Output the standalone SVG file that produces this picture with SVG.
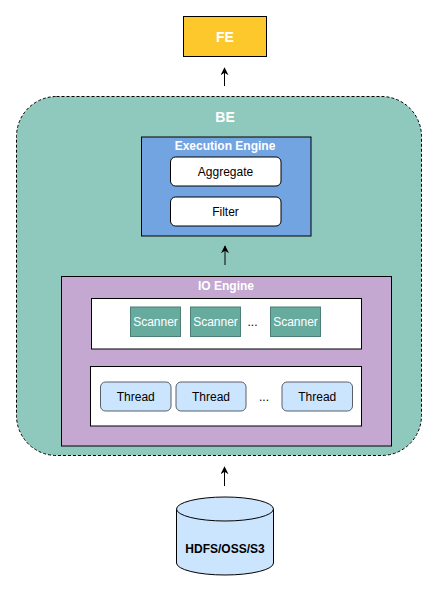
<svg xmlns="http://www.w3.org/2000/svg" width="439" height="593" viewBox="0 0 439 593">
<defs>
<marker id="arr" viewBox="0 0 10 10" refX="9" refY="5" markerWidth="8" markerHeight="8" markerUnits="userSpaceOnUse" orient="auto">
<path d="M0,0 L10,5 L0,10 L3,5 Z" fill="#000"/>
</marker>
</defs>
<style>
text{font-family:"Liberation Sans",Arial,sans-serif;text-anchor:middle;dominant-baseline:central}
.wb{fill:#fff;font-weight:bold}
.t{font-size:12px;fill:#000}
.scan{fill:#67AB9F;stroke:#4d7f76;stroke-width:1}
.th{fill:#CCE5FF;stroke:#5a5f66;stroke-width:1}
.box{fill:#fff;stroke:#000;stroke-width:1}
.c{stroke:#000;stroke-width:1;fill:none;marker-end:url(#arr)}
</style>
<g id="FE">
<rect x="183.5" y="16.5" width="83" height="40" fill="#FCC82C" stroke="#000"/>
<text x="225" y="37" class="wb" font-size="14">FE</text>
</g>
<g id="BE">
<rect x="16.5" y="96.5" width="405" height="359" rx="40" fill="#8FC9BE" stroke="#000" stroke-dasharray="3,2"/>
<text x="225" y="117" class="wb" font-size="14">BE</text>
</g>
<g id="ExecutionEngine">
<rect x="141.5" y="137" width="169.5" height="99" fill="#73A4E2" stroke="#000"/>
<text x="225" y="146" class="wb" font-size="12">Execution Engine</text>
</g>
<g id="Aggregate">
<rect x="170.5" y="157" width="110.5" height="29" rx="5" class="box"/>
<text x="225.5" y="171.5" class="t">Aggregate</text>
</g>
<g id="Filter">
<rect x="170.5" y="197" width="110.5" height="29" rx="5" class="box"/>
<text x="225.5" y="211.5" class="t">Filter</text>
</g>
<g id="IOEngine">
<rect x="61.5" y="276.5" width="330" height="169.5" fill="#C4A8D2" stroke="#000"/>
<text x="226" y="286" class="wb" font-size="12">IO Engine</text>
</g>
<g id="ScannerPool">
<rect x="91.5" y="298.5" width="270" height="50.5" fill="#fff" stroke="#000"/>
</g>
<g id="Scanner1">
<rect x="130.5" y="307" width="50" height="29.5" class="scan"/>
<text x="155.5" y="321.5" class="wb" font-size="12" style="font-weight:normal">Scanner</text>
</g>
<g id="Scanner2">
<rect x="190.5" y="307" width="50" height="29.5" class="scan"/>
<text x="215.5" y="321.5" class="wb" font-size="12" style="font-weight:normal">Scanner</text>
</g>
<g id="ScannerDots"><text x="252.5" y="322" class="t">...</text></g>
<g id="Scanner3">
<rect x="270.5" y="307" width="50" height="29.5" class="scan"/>
<text x="295.5" y="321.5" class="wb" font-size="12" style="font-weight:normal">Scanner</text>
</g>
<g id="ThreadPool">
<rect x="90.5" y="366.5" width="271" height="59.5" fill="#fff" stroke="#000"/>
</g>
<g id="Thread1">
<rect x="100.5" y="382" width="70.5" height="29" rx="5" class="th"/>
<text x="135.75" y="396.5" class="t">Thread</text>
</g>
<g id="Thread2">
<rect x="176" y="382" width="70" height="29" rx="5" class="th"/>
<text x="211" y="396.5" class="t">Thread</text>
</g>
<g id="ThreadDots"><text x="264" y="397" class="t">...</text></g>
<g id="Thread3">
<rect x="282" y="382" width="70.5" height="29" rx="5" class="th"/>
<text x="317.25" y="396.5" class="t">Thread</text>
</g>
<g id="HDFS">
<path d="M176.5,509 L176.5,563 A48.5,12 0 0 0 273.5,563 L273.5,509" fill="#CCE5FF" stroke="#000"/>
<ellipse cx="225" cy="509" rx="48.5" ry="12" fill="#CCE5FF" stroke="#000"/>
<text x="225" y="549" class="t" font-weight="bold" fill="#333">HDFS/OSS/S3</text>
</g>
<g id="connectors">
<line x1="224.5" y1="86" x2="224.5" y2="68" class="c"/>
<line x1="225" y1="265" x2="225" y2="246" class="c"/>
<line x1="224.5" y1="486" x2="224.5" y2="467" class="c"/>
</g>
</svg>
